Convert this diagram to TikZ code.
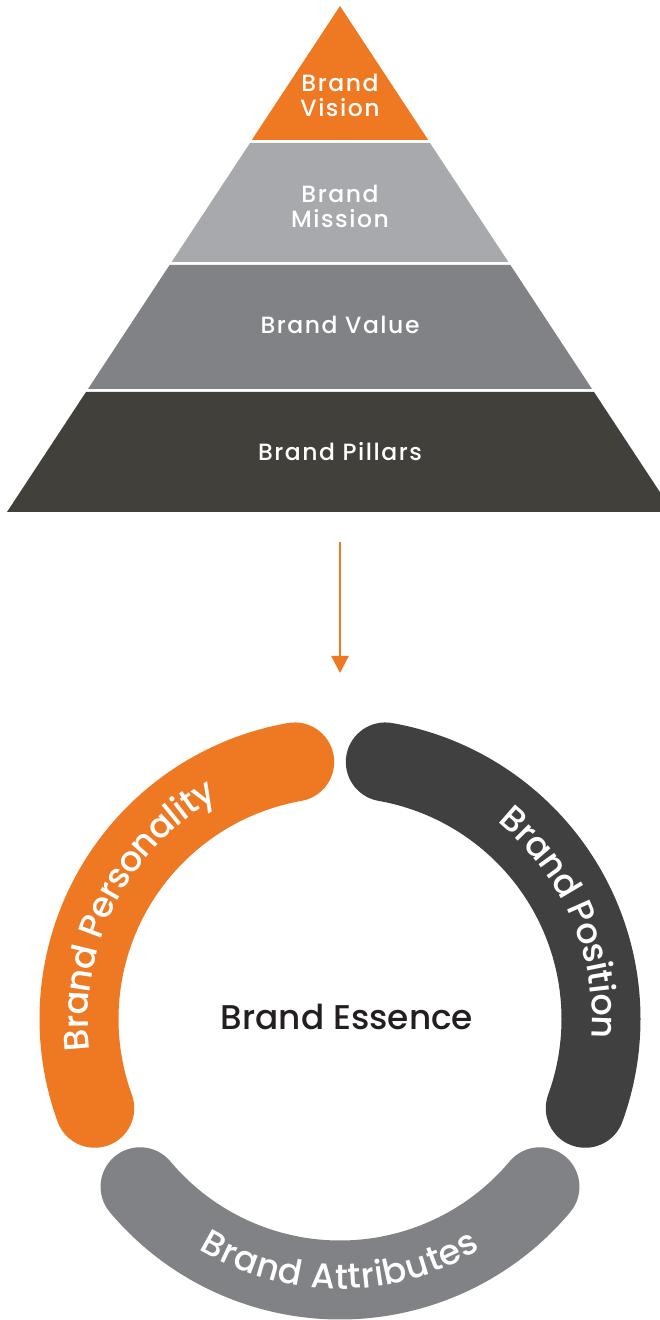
\documentclass[tikz,border=0pt]{standalone}
\usepackage{fontspec}
\setmainfont{Poppins}[UprightFont=* Medium]
\newfontfamily\pyrfont{Poppins}[UprightFont=* Medium, LetterSpace=6.5]
\newfontfamily\ringfont{Poppins}[UprightFont=* Medium]
\usetikzlibrary{arrows.meta,decorations.text}

\definecolor{brandorange}{RGB}{239,121,35}
\definecolor{tierlight}{RGB}{167,169,172}
\definecolor{tiermid}{RGB}{128,130,133}
\definecolor{tierdark}{RGB}{65,64,59}
\definecolor{ringdark}{RGB}{64,64,65}
\definecolor{ringmid}{RGB}{128,130,133}
\definecolor{essencetext}{RGB}{35,31,32}

\tikzset{
  pyrlabel/.style={text=white, align=center,
    font=\pyrfont\fontsize{23.5}{26}\selectfont, inner sep=0pt},
  band/.style={line width=79pt, line cap=round},
  flow/.style={draw=brandorange, line width=2.5pt,
    -{Triangle[length=17pt,width=17pt]}},
  bandtext/.style={decorate, decoration={text along path,
    text align=center, raise=-9pt,
    text={|\ringfont\fontsize{35}{38}\selectfont\color{white}|#1}}}
}

\begin{document}
\begin{tikzpicture}[x=1pt,y=1pt]
\useasboundingbox (0,0) rectangle (660,1320);
\fill[white] (0,0) rectangle (660,1320);

% pyramid tiers, separated by thin white gaps
\fill[brandorange] (340,1314) -- (428.2,1180) -- (251.8,1180) -- cycle;
\fill[tierlight] (250.0,1177) -- (430.0,1177) -- (508.4,1058) -- (171.6,1058) -- cycle;
\fill[tiermid] (169.6,1055) -- (510.4,1055) -- (592.0,931) -- (88.0,931) -- cycle;
\fill[tierdark] (86.0,928) -- (594.0,928) -- (673.0,808) -- (7.0,808) -- cycle;

\node[pyrlabel] (vision) at (340,1225) {Brand\\[-1pt]Vision};
\node[pyrlabel] (mission) at (340,1114) {Brand\\[-1pt]Mission};
\node[pyrlabel] (value) at (340,995) {Brand Value};
\node[pyrlabel] (pillars) at (340,868) {Brand Pillars};

% arrow from the pyramid down to the ring
\coordinate (arrowtail) at (340,778);
\coordinate (arrowtip) at (340,647);
\draw[flow] (arrowtail) -- (arrowtip);

% ring of three rounded bands
\coordinate (c) at (340,301);
\draw[band, brandorange] (c) ++(100:261) arc[start angle=100, end angle=200, radius=261];
\draw[band, ringdark] (c) ++(80:261) arc[start angle=80, end angle=-20, radius=261];
\draw[band, ringmid] (c) ++(220:261) arc[start angle=220, end angle=320, radius=261];

\path[bandtext={Brand Personality}] (c) ++(203:261) arc[start angle=203, end angle=103, radius=261];
\path[bandtext={Brand Position}] (c) ++(73.5:261) arc[start angle=73.5, end angle=-26.5, radius=261];
\path[bandtext={Brand Attributes}] (c) ++(220:261) arc[start angle=220, end angle=320, radius=261];

\node[text=essencetext, font=\fontsize{34.3}{38}\selectfont, inner sep=0pt] (essence) at (347,303) {Brand Essence};
\end{tikzpicture}
\end{document}
